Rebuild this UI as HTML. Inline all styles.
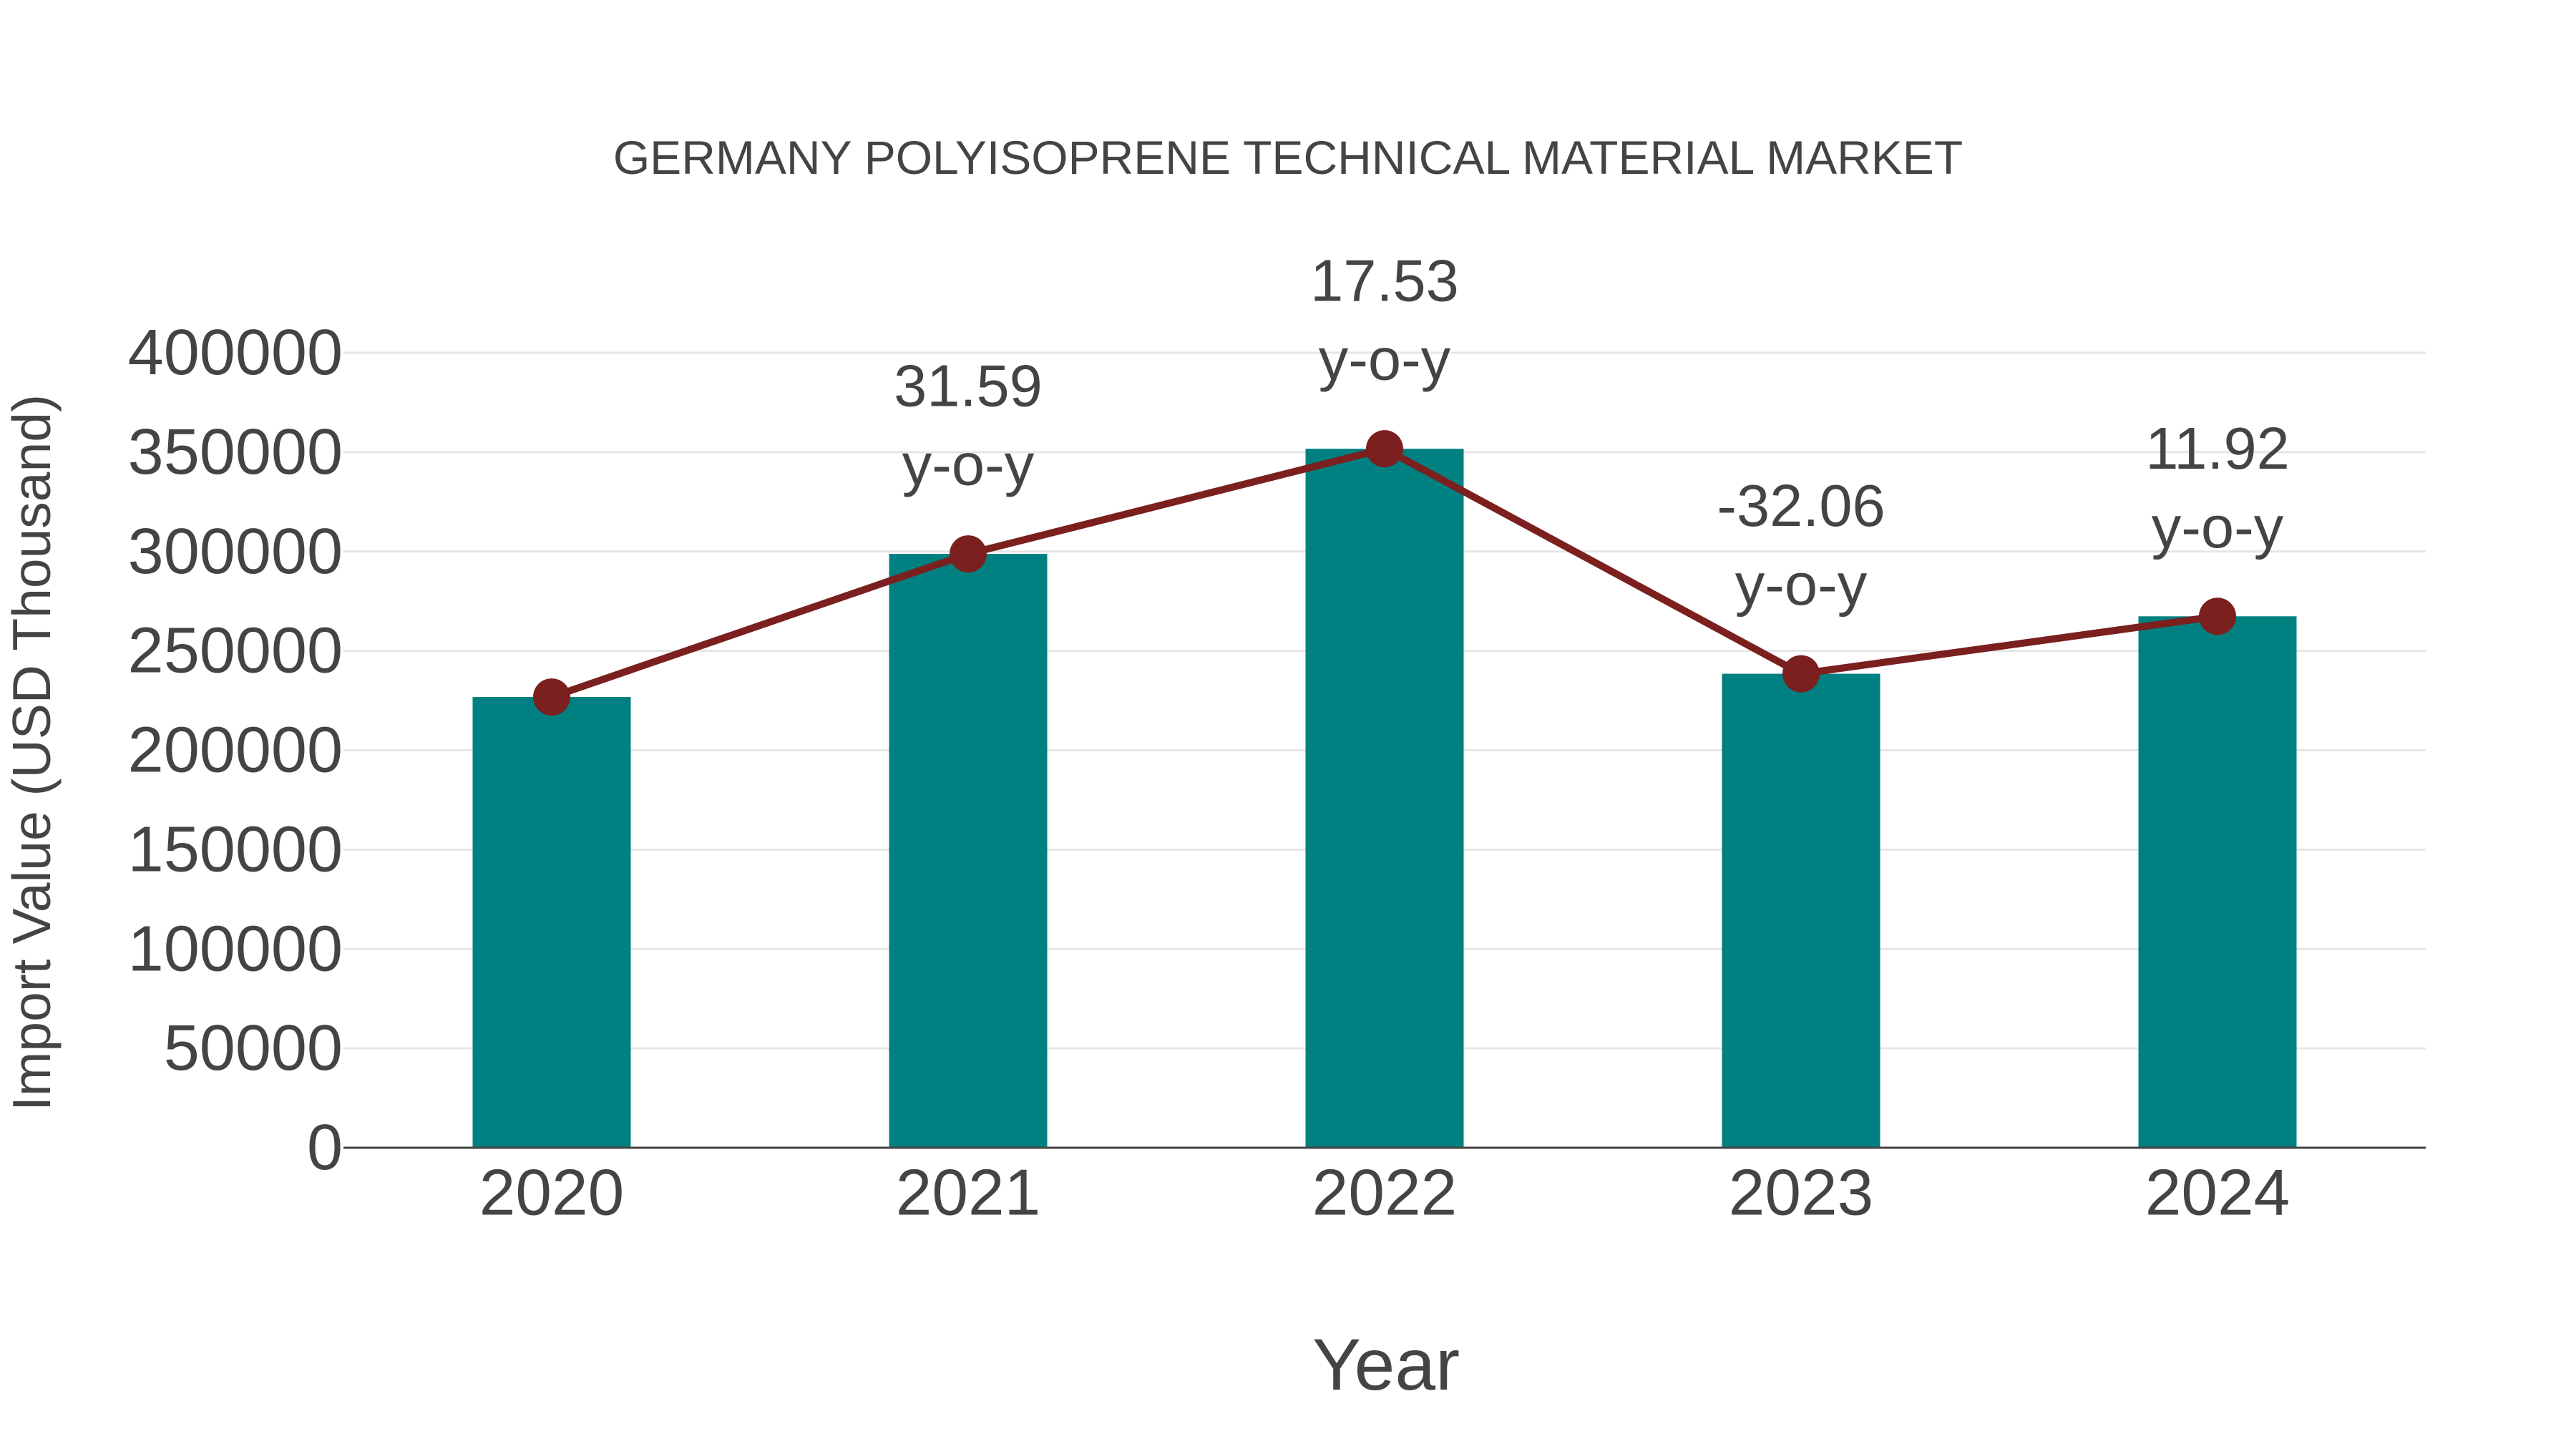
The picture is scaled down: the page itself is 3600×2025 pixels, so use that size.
<!DOCTYPE html>
<html><head><meta charset="utf-8">
<style>
html,body{margin:0;padding:0;background:#fff;}
svg{display:block;font-family:"Liberation Sans",Arial,sans-serif;}
</style></head>
<body>
<svg id="chart" width="3600" height="2025" viewBox="0 0 3600 2025" xmlns="http://www.w3.org/2000/svg">
<rect width="3600" height="2025" fill="#fff"/>
<text x="1800" y="220" text-anchor="middle" dominant-baseline="central" font-size="66" fill="#444">GERMANY POLYISOPRENE TECHNICAL MATERIAL MARKET</text>
<text transform="translate(44,1052) rotate(-90)" text-anchor="middle" dominant-baseline="central" font-size="75" fill="#444">Import Value (USD Thousand)</text>
<text x="1937" y="1907" text-anchor="middle" dominant-baseline="central" font-size="102" fill="#444">Year</text>
<g id="grid"></g><g id="bars"></g><g id="line"></g><g id="labels"></g>
</svg>
<script>
const categories = ["2020","2021","2022","2023","2024"];
const importValues = [226800, 298800, 351700, 238500, 267400];
const yoyLabels = ["", "31.59", "17.53", "-32.06", "11.92"];
const yTicks = [0,50000,100000,150000,200000,250000,300000,350000,400000];

const NS = "http://www.w3.org/2000/svg";
const plotL = 480, plotR = 3390, y0 = 1604, yTop = 493, yMax = 400000;
const band = (plotR - plotL) / categories.length;
const xPos = i => plotL + band * (i + 0.5);
const yPos = v => y0 - (v / yMax) * (y0 - yTop);
function mk(tag, attrs, parent){const e=document.createElementNS(NS,tag);for(const k in attrs)e.setAttribute(k,attrs[k]);parent.appendChild(e);return e;}

const grid = document.getElementById('grid');
yTicks.forEach(t=>{
  if(t>0){
    const l = mk('line',{x1:plotL,x2:plotR,y1:yPos(t),y2:yPos(t),stroke:'#e6e6e6','stroke-width':3},grid);
    
    
  }
  const tx = mk('text',{x:479,y:yPos(t),'text-anchor':'end','dominant-baseline':'central','font-size':90,fill:'#444'},grid);
  tx.textContent = String(t);
  
  
});

const bars = document.getElementById('bars');
importValues.forEach((v,i)=>{
  const r = mk('rect',{x:xPos(i)-110.5,y:yPos(v),width:221,height:y0-yPos(v),fill:'#008080'},bars);
  
  
  const tx = mk('text',{x:xPos(i),y:1667,'text-anchor':'middle','dominant-baseline':'central','font-size':91,fill:'#444'},bars);
  tx.textContent = categories[i];
  
  
});
const ax = mk('line',{x1:plotL,x2:plotR,y1:y0,y2:y0,stroke:'#444','stroke-width':3},bars);



const lg = document.getElementById('line');
const pts = importValues.map((v,i)=>xPos(i)+','+yPos(v)).join(' ');
const pl = mk('polyline',{points:pts,fill:'none',stroke:'#7b1f1f','stroke-width':10,'stroke-linejoin':'round'},lg);


importValues.forEach((v,i)=>{
  const c = mk('circle',{cx:xPos(i),cy:yPos(v),r:26,fill:'#7b1f1f'},lg);
  
  
});

const lb = document.getElementById('labels');
yoyLabels.forEach((s,i)=>{
  if(!s) return;
  const py = yPos(importValues[i]);
  const t1 = mk('text',{x:xPos(i),y:py-235,'text-anchor':'middle','dominant-baseline':'central','font-size':83,fill:'#444'},lb);
  t1.textContent = s;
  
  
  const t2 = mk('text',{x:xPos(i),y:py-125,'text-anchor':'middle','dominant-baseline':'central','font-size':83,fill:'#444'},lb);
  t2.textContent = 'y-o-y';
  
  
});
</script>
</body></html>
